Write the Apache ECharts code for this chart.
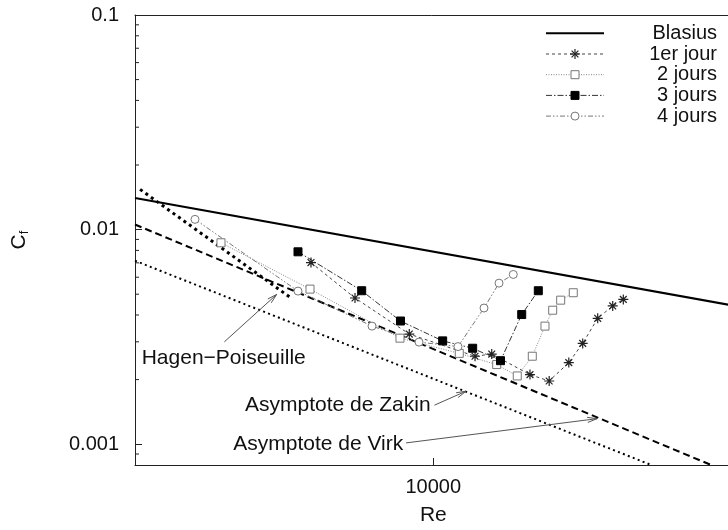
<!DOCTYPE html>
<html><head><meta charset="utf-8">
<script src="https://cdn.jsdelivr.net/npm/echarts@6/dist/echarts.min.js"></script>
<style>html,body{margin:0;padding:0;background:#fff}#c{width:728px;height:530px}</style>
</head><body><div id="c"></div>
<script>
// ---------------- data ----------------
const seriesNames = ['Blasius', '1er jour', '2 jours', '3 jours', '4 jours'];

const re1 = [3890, 5464, 8308, 13800, 15700, 21090, 24460, 28460, 31680, 35570, 39940, 43350];
const cf1 = [0.00702, 0.00480, 0.00326, 0.00257, 0.00263, 0.00211, 0.00197, 0.00240, 0.00295, 0.00386, 0.00441, 0.00473];

const re2 = [1942, 3861, 7732, 12220, 16310, 19120, 21470, 23680, 25130, 26730, 29460];
const cf2 = [0.00868, 0.00528, 0.00312, 0.00265, 0.00235, 0.00208, 0.00257, 0.00355, 0.00421, 0.00469, 0.00508];

const re3 = [3519, 5754, 7762, 10750, 13550, 16800, 19790, 22490];
const cf3 = [0.00788, 0.00519, 0.00375, 0.00303, 0.00280, 0.00245, 0.00402, 0.00519];

const re4 = [1589, 3519, 6231, 8955, 12100, 14790, 16610, 18540];
const cf4 = [0.01116, 0.00517, 0.00355, 0.00299, 0.00285, 0.00431, 0.00563, 0.00618];

// reference straight lines (end points)
const blasiusRe = [1000, 100000];  const blasiusCf = [0.01405, 0.00444];
const virkRe    = [1000, 85400];   const virkCf    = [0.01056, 0.0008];
const zakinRe   = [1000, 53800];   const zakinCf   = [0.00716, 0.0008];
const hagenRe   = [1040, 3300];    const hagenCf   = [0.0154, 0.00485];

// axes
const xRange = [1000, 100000];
const yRange = [0.0008, 0.1];
const xTickValues = [10000];             const xTickLabels = ['10000'];
const yTickValues = [0.001, 0.01, 0.1];  const yTickLabels = ['0.001', '0.01', '0.1'];
const yMinorValues = [0.0009, 0.002, 0.003, 0.004, 0.005, 0.006, 0.007, 0.008, 0.009,
                      0.02, 0.03, 0.04, 0.05, 0.06, 0.07, 0.08, 0.09];

// annotations (text anchor, arrow tail, arrow head) in data coordinates
const annoTexts  = ['Hagen\u2212Poiseuille', 'Asymptote de Zakin', 'Asymptote de Virk'];
const annoTextRe = [1053, 2338, 2135];      const annoTextCf = [0.002504, 0.001525, 0.000995];
const annoFromRe = [1993, 10090, 8101];     const annoFromCf = [0.002998, 0.00152, 0.001014];
const annoToRe   = [2985, 12870, 35390];    const annoToCf   = [0.004987, 0.001766, 0.001315];

// ---------------- chart ----------------
const FONT = '"Liberation Sans", Arial, Helvetica, sans-serif';
const zip = (a, b) => a.map((v, i) => [v, b[i]]);
const near = (a, b) => Math.abs(a - b) / b < 1e-6;
const ASTER = 'path://M0 5L10 5M5 0L5 10M1.6 1.6L8.4 8.4M8.4 1.6L1.6 8.4';

const styles = [
  { line: { color: '#000', width: 2, type: 'solid' }, sym: null },
  { line: { color: '#444', width: 1, type: [3, 3] }, sym: 'aster', symColor: '#222', size: 10 },
  { line: { color: '#888', width: 1, type: [1, 1.5] }, sym: 'rect', symColor: '#777', fill: '#fff', size: 8 },
  { line: { color: '#333', width: 1, type: [6, 2, 1.5, 2] }, sym: 'rect', symColor: '#000', fill: '#000', size: 8 },
  { line: { color: '#777', width: 1, type: [5, 2, 1.5, 2, 1.5, 2] }, sym: 'circle', symColor: '#777', fill: '#fff', size: 8 }
];

function dataSeries(idx, re, cf) {
  const s = styles[idx];
  return {
    name: seriesNames[idx], type: 'line', data: zip(re, cf),
    symbol: s.sym === 'aster' ? ASTER : s.sym, symbolSize: s.size, symbolKeepAspect: true,
    itemStyle: s.sym === 'aster'
      ? { color: s.symColor, borderColor: s.symColor, borderWidth: 1.2 }
      : { color: s.fill, borderColor: s.symColor, borderWidth: 1 },
    lineStyle: s.line, showSymbol: true, z: 4, silent: true
  };
}
function refLine(name, re, cf, line) {
  return { name, type: 'line', data: zip(re, cf), symbol: 'none', lineStyle: line, z: 3, silent: true };
}

const legendGraphics = [];
const L0 = 546, L1 = 604, LM = 575, LT = 717, LY = 33.3, LDY = 20.7;
seriesNames.forEach((n, i) => {
  const s = styles[i], y = LY + i * LDY;
  legendGraphics.push({ type: 'line', shape: { x1: L0, y1: y, x2: L1, y2: y },
    style: { stroke: s.line.color, lineWidth: s.line.width, lineDash: s.line.type === 'solid' ? null : s.line.type } });
  if (s.sym === 'aster') {
    const r = 5, d = 3.4;
    [[-r, 0, r, 0], [0, -r, 0, r], [-d, -d, d, d], [d, -d, -d, d]].forEach(q => {
      legendGraphics.push({ type: 'line', shape: { x1: LM + q[0], y1: y + q[1], x2: LM + q[2], y2: y + q[3] },
        style: { stroke: s.symColor, lineWidth: 1.2 } });
    });
  } else if (s.sym === 'rect') {
    legendGraphics.push({ type: 'rect', shape: { x: LM - 4, y: y - 4, width: 8, height: 8 },
      style: { stroke: s.symColor, fill: s.fill, lineWidth: 1 } });
  } else if (s.sym === 'circle') {
    legendGraphics.push({ type: 'circle', shape: { cx: LM, cy: y, r: 4 },
      style: { stroke: s.symColor, fill: s.fill, lineWidth: 1 } });
  }
  legendGraphics.push({ type: 'text', x: LT, y: y,
    style: { text: n, font: '20px ' + FONT, fill: '#111', align: 'right', verticalAlign: 'middle', textAlign: 'right', textVerticalAlign: 'middle' } });
});

const axisCommon = {
  axisLine: { show: true, onZero: false, lineStyle: { color: '#222', width: 1 } },
  splitLine: { show: false }, minorTick: { show: false }, minorSplitLine: { show: false }
};

const chart = echarts.init(document.getElementById('c'), null, { renderer: 'canvas' });
chart.setOption({
  animation: false,
  backgroundColor: '#fff',
  grid: { left: 135, top: 15, right: -3.6, bottom: 65, outerBoundsMode: 'none', containLabel: false },
  xAxis: [
    Object.assign({}, axisCommon, {
      type: 'log', logBase: 10, min: xRange[0], max: xRange[1], position: 'bottom',
      axisTick: { show: true, inside: true, length: 7, lineStyle: { color: '#222' } },
      axisLabel: { show: true, margin: 12, color: '#111', fontSize: 20, fontFamily: FONT,
        showMinLabel: true, showMaxLabel: true, hideOverlap: false,
        formatter: v => { const k = xTickValues.findIndex(t => near(v, t)); return k >= 0 ? xTickLabels[k] : ''; } },
      name: 'Re', nameLocation: 'middle', nameGap: 40,
      nameTextStyle: { fontSize: 21, color: '#111', fontFamily: FONT }
    }),
    Object.assign({}, axisCommon, {
      type: 'log', logBase: 10, min: xRange[0], max: xRange[1], position: 'top',
      axisTick: { show: false }, axisLabel: { show: false }
    })
  ],
  yAxis: Object.assign({}, axisCommon, {
    type: 'log', logBase: 10, min: yRange[0], max: yRange[1], position: 'left',
    axisTick: { show: true, inside: true, length: 7, lineStyle: { color: '#222' } },
    axisLabel: { show: true, margin: 16, color: '#111', fontSize: 20, fontFamily: FONT,
      showMinLabel: true, showMaxLabel: true, hideOverlap: false,
      formatter: v => { const k = yTickValues.findIndex(t => near(v, t)); return k >= 0 ? yTickLabels[k] : ''; } },
    name: '{c|C}{s|f}', nameLocation: 'middle', nameGap: 104, nameRotate: 90,
    nameTextStyle: { color: '#111', fontFamily: FONT,
      rich: { c: { fontSize: 21, lineHeight: 24, fontFamily: FONT, color: '#111' },
              s: { fontSize: 13, lineHeight: 16, verticalAlign: 'bottom', fontFamily: FONT, color: '#111' } } }
  }),
  graphic: legendGraphics,
  series: [
    refLine('Blasius', blasiusRe, blasiusCf, { color: '#000', width: 2, type: 'solid' }),
    refLine('Virk', virkRe, virkCf, { color: '#000', width: 2, type: [7, 4] }),
    refLine('Zakin', zakinRe, zakinCf, { color: '#000', width: 2, type: [2, 3.3] }),
    refLine('Hagen', hagenRe, hagenCf, { color: '#000', width: 3, type: [3, 3.7] }),
    dataSeries(1, re1, cf1),
    dataSeries(2, re2, cf2),
    dataSeries(3, re3, cf3),
    dataSeries(4, re4, cf4),
    {
      type: 'custom', silent: true, z: 10, clip: false,
      data: yMinorValues.map(v => [xRange[0], v]),
      renderItem: (params, api) => {
        const v = yMinorValues[params.dataIndex];
        const p = api.coord([xRange[0], v]);
        return { type: 'line', shape: { x1: p[0], y1: p[1], x2: p[0] + 4, y2: p[1] },
          style: { stroke: '#222', lineWidth: 1 } };
      }
    },
    {
      type: 'custom', silent: true, z: 6, clip: false,
      data: zip(annoTextRe, annoTextCf),
      renderItem: (params, api) => {
        const i = params.dataIndex;
        const tp = api.coord([annoTextRe[i], annoTextCf[i]]);
        const a = api.coord([annoFromRe[i], annoFromCf[i]]);
        const b = api.coord([annoToRe[i], annoToCf[i]]);
        const ang = Math.atan2(b[1] - a[1], b[0] - a[0]);
        const L = 10, w = 0.26;
        const h1 = [b[0] - L * Math.cos(ang - w), b[1] - L * Math.sin(ang - w)];
        const h2 = [b[0] - L * Math.cos(ang + w), b[1] - L * Math.sin(ang + w)];
        return { type: 'group', children: [
          { type: 'text', x: tp[0], y: tp[1],
            style: { text: annoTexts[i], font: '21px ' + FONT, fill: '#111',
              align: 'left', verticalAlign: 'middle', textAlign: 'left', textVerticalAlign: 'middle' } },
          { type: 'line', shape: { x1: a[0], y1: a[1], x2: b[0], y2: b[1] }, style: { stroke: '#555', lineWidth: 1 } },
          { type: 'polyline', shape: { points: [h1, b, h2] }, style: { stroke: '#555', fill: null, lineWidth: 1 } }
        ] };
      }
    }
  ]
});
</script>
</body></html>
